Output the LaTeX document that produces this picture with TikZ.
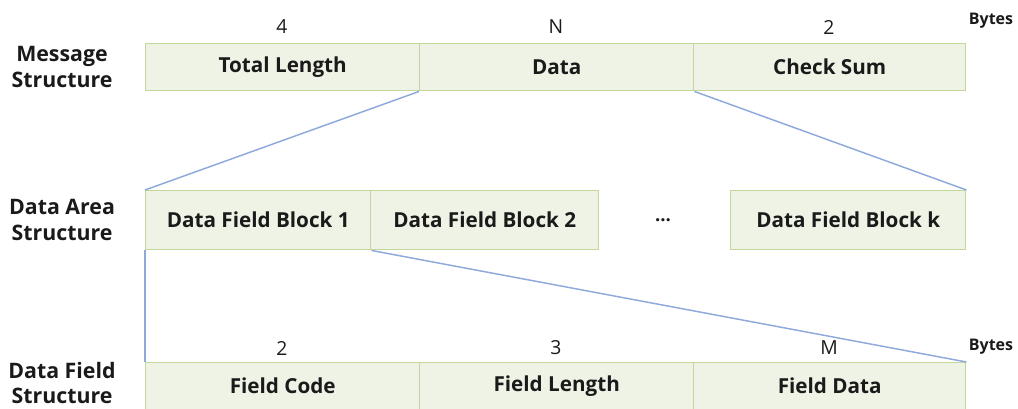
\documentclass[tikz,border=0pt]{standalone}
\usepackage{fontspec}
\setmainfont{Open Sans}
\definecolor{boxfill}{HTML}{EEF3E6}
\definecolor{boxdraw}{HTML}{C3D69B}
\definecolor{linkblue}{HTML}{8EA9DB}
\definecolor{txt}{HTML}{1A1A1A}
\begin{document}
\begin{tikzpicture}[x=0.75pt,y=-0.75pt,
  field/.style={draw=boxdraw,fill=boxfill,line width=1.1pt,anchor=north west,inner sep=0pt,
    font=\bfseries\fontsize{15.5}{17}\selectfont,text=txt},
  sizelbl/.style={font=\fontsize{14.5}{16}\selectfont,text=txt},
  rowlbl/.style={font=\bfseries\fontsize{16}{19}\selectfont,text=txt,align=center},
  bytes/.style={font=\bfseries\fontsize{12}{13}\selectfont,text=txt},
  link/.style={draw=linkblue,line width=1.1pt}]
\useasboundingbox (0,0) rectangle (1018,408);
% top row
\node[field,minimum width=205.5pt,minimum height=35.25pt] (tl) at (145,43) {Total Length};
\node[field,minimum width=205.5pt,minimum height=35.25pt] (dt) at (419,43) {Data};
\node[field,minimum width=204pt,minimum height=35.25pt] (cs) at (693,43) {Check Sum};
\node[sizelbl] (n4) at (282,27) {4};
\node[sizelbl] (nN) at (556,27) {N};
\node[sizelbl] (n2) at (829,27) {2};
\node[bytes] (by1) at (991,21) {Bytes};
\node[rowlbl] (ms) at (62,67) {Message\\Structure};
% middle row
\node[field,minimum width=168.75pt,minimum height=44.25pt] (b1) at (145,190) {Data Field Block 1};
\node[field,minimum width=171pt,minimum height=44.25pt] (b2) at (370,190) {Data Field Block 2};
\node[field,minimum width=176.25pt,minimum height=44.25pt] (bk) at (730,190) {Data Field Block k};
\node[font=\bfseries\fontsize{14}{16}\selectfont,text=txt] (dots) at (663,220) {...};
\node[rowlbl] (da) at (62,220) {Data Area\\Structure};
% bottom row
\node[field,minimum width=205.5pt,minimum height=35.25pt] (fc) at (145,362) {Field Code};
\node[field,minimum width=205.5pt,minimum height=35.25pt] (fl) at (419,362) {Field Length};
\node[field,minimum width=204pt,minimum height=35.25pt] (fd) at (693,362) {Field Data};
\node[sizelbl] (m2) at (282,348) {2};
\node[sizelbl] (m3) at (556,348) {3};
\node[sizelbl] (mM) at (829,348) {M};
\node[bytes] (by2) at (991,347) {Bytes};
\node[rowlbl] (df) at (62,383) {Data Field\\Structure};
% links
\draw[link] (dt.south west) -- (b1.north west);
\draw[link] (dt.south east) -- (bk.north east);
\draw[link] (b1.south west) -- (fc.north west);
\draw[link] (b1.south east) -- (fd.north east);
\end{tikzpicture}
\end{document}
